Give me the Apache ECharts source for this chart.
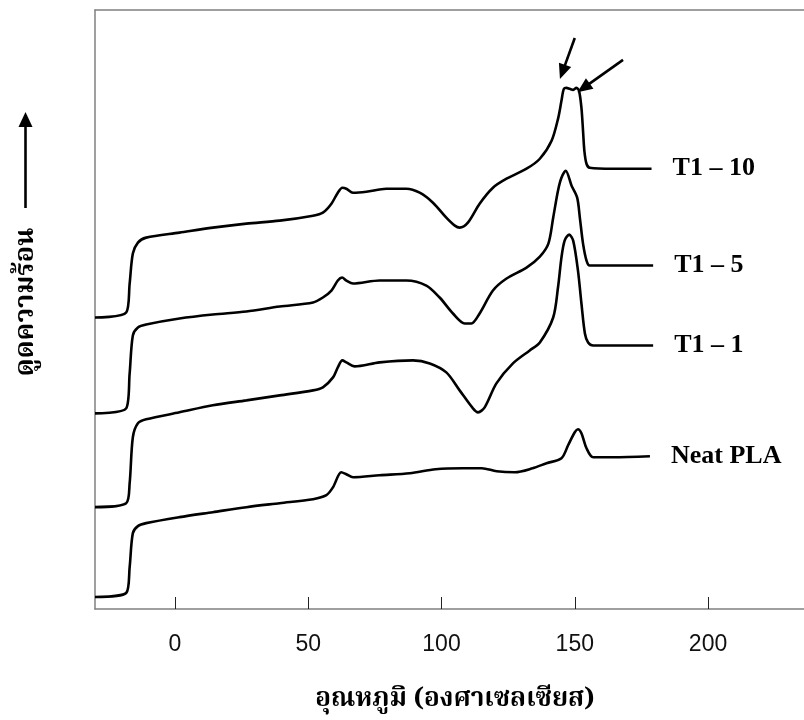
<!DOCTYPE html>
<html>
<head>
<meta charset="utf-8">
<script src="https://cdn.jsdelivr.net/npm/echarts@6/dist/echarts.min.js"></script>
<style>
html,body{margin:0;padding:0;background:#fff;}
#chart{width:804px;height:720px;}
</style>
</head>
<body>
<div id="chart"></div>
<script>
// Temperature (°C) vs heat flow (arbitrary units, offset curves)
const tempTicks = [0, 50, 100, 150, 200];
const seriesNames = ['T1 – 10', 'T1 – 5', 'T1 – 1', 'Neat PLA'];

const dataT1_10 = [[-30,29.2],[-18.3,29.7],[-17.0,32.6],[-15.8,35.6],[-13.9,36.7],[-10.8,37.2],[1.7,37.7],[14.2,38.2],[26.8,38.6],[39.3,38.9],[51.8,39.4],[55.5,39.7],[58.7,40.6],[61.1,41.7],[62.8,42.2],[64.3,42.1],[66.8,41.7],[71.8,41.8],[79.3,42.1],[86.8,42.1],[91.8,41.7],[96.8,40.7],[101.8,39.2],[105.0,38.4],[106.8,38.2],[109.9,38.7],[114.3,40.6],[119.3,42.2],[124.4,43.1],[131.9,44.1],[136.9,45.1],[141.3,46.9],[143.8,49.2],[145.0,50.9],[145.9,52.1],[146.9,52.2],[148.1,52.1],[149.4,52.0],[150.6,52.2],[151.6,51.9],[152.5,50.2],[153.1,47.9],[153.6,45.9],[154.4,44.6],[155.6,44.2],[164.4,44.1],[178.8,44.1]];

const dataT1_5 = [[-30,19.6],[-18.3,20.1],[-17.0,23.6],[-15.8,27.4],[-13.9,28.2],[-10.8,28.5],[1.7,29.1],[14.2,29.5],[26.8,29.8],[39.3,30.3],[51.8,30.7],[55.5,31.2],[58.7,31.9],[61.1,32.9],[62.7,33.2],[64.3,32.9],[66.8,32.6],[76.8,32.9],[86.8,32.9],[94.3,32.4],[99.3,31.2],[104.3,29.6],[108.7,28.6],[111.2,28.6],[114.3,29.6],[119.3,31.9],[124.4,33.1],[131.9,34.2],[136.9,35.3],[140.1,36.6],[141.9,39.2],[143.7,41.9],[145.0,43.2],[146.6,43.9],[148.8,42.4],[150.9,41.2],[151.9,39.2],[153.1,36.6],[154.4,34.9],[155.6,34.4],[179.4,34.4]];

const dataT1_1 = [[-30,10.2],[-18.3,10.6],[-17.0,12.6],[-15.8,17.2],[-13.9,18.6],[-10.8,19.0],[1.7,19.7],[14.2,20.4],[26.8,20.9],[39.3,21.4],[51.8,21.9],[55.5,22.2],[59.3,23.2],[61.1,24.2],[62.8,24.9],[64.3,24.7],[67.4,24.3],[76.8,24.7],[89.3,24.9],[95.6,24.6],[101.8,23.7],[106.8,21.9],[111.8,20.1],[113.7,19.7],[116.2,20.2],[120.6,22.6],[126.8,24.6],[133.1,25.9],[136.9,26.7],[141.9,29.2],[143.7,32.2],[145.0,35.2],[146.2,36.9],[147.9,37.5],[149.4,36.9],[151.2,33.9],[152.5,30.6],[153.8,27.6],[155.0,26.7],[156.9,26.4],[179.4,26.4]];

const dataNeat = [[-30,1.2],[-18.3,1.6],[-17.0,4.2],[-15.8,7.6],[-13.9,8.3],[-10.8,8.6],[1.7,9.2],[14.2,9.7],[26.8,10.2],[39.3,10.6],[51.8,11.0],[56.8,11.4],[59.3,12.2],[62.4,13.7],[64.3,13.5],[66.8,13.2],[76.8,13.4],[88.1,13.6],[97.8,14.0],[108.0,14.1],[115.1,14.1],[120.7,13.8],[127.5,13.7],[134.2,14.1],[139.4,14.6],[145.0,15.1],[147.5,16.4],[150.0,17.7],[151.2,18.0],[152.5,17.6],[154.4,16.1],[156.9,15.2],[164.4,15.2],[178.2,15.3]];

// annotation arrows pointing to the two melting peaks of T1 – 10: [from, to]
const peakArrows = [[[150.0,57.2],[145.4,53.8]], [[168.1,55.0],[153.3,52.2]]];

const allData = [dataT1_10, dataT1_5, dataT1_1, dataNeat];

const yTitle = 'ดูดความร้อน';
const xTitle = 'อุณหภูมิ (องศาเซลเซียส)';

const thaiFont = "'Noto Serif Thai','Noto Sans Thai','Loma','Garuda','Norasi','Tlwg Typo','Liberation Serif',serif";

const chart = echarts.init(document.getElementById('chart'), null, {renderer: 'canvas'});

const series = allData.map((d, i) => {
  const s = {
    type: 'line',
    name: seriesNames[i],
    data: d,
    smooth: 0.3,
    showSymbol: false,
    symbol: 'none',
    silent: true,
    lineStyle: {color: '#000', width: 2.6},
    endLabel: {
      show: true,
      formatter: seriesNames[i],
      distance: 21,
      color: '#000',
      fontFamily: "'Liberation Serif','Times New Roman',serif",
      fontWeight: 'bold',
      fontSize: 26
    },
    animation: false
  };
  if (i === 0) {
    s.markLine = {
      silent: true,
      animation: false,
      symbol: ['none', 'triangle'],
      symbolSize: [13, 15],
      label: {show: false},
      lineStyle: {color: '#000', width: 2.6, type: 'solid'},
      emphasis: {disabled: true},
      data: peakArrows.map(a => [{coord: a[0]}, {coord: a[1]}])
    };
  }
  return s;
});

const option = {
  animation: false,
  backgroundColor: '#fff',
  grid: {left: 95, right: 0, top: 10, bottom: 111, containLabel: false},
  xAxis: [{
    type: 'value',
    min: -30, max: 236,
    position: 'bottom',
    name: xTitle,
    nameLocation: 'middle',
    nameGap: 80,
    nameTextStyle: {fontFamily: thaiFont, fontWeight: 'bold', fontSize: 26, color: '#000', padding: [0, 0, 0, 11]},
    axisLine: {show: true, onZero: false, lineStyle: {color: '#808080', width: 1.5}},
    axisTick: {show: true, inside: true, length: 12, customValues: tempTicks, lineStyle: {color: '#222', width: 1}},
    axisLabel: {show: true, customValues: tempTicks, margin: 24, fontFamily: "'Liberation Sans',Arial,sans-serif", fontSize: 23, color: '#111'},
    splitLine: {show: false}
  }, {
    type: 'value',
    min: -30, max: 236,
    position: 'top',
    axisLine: {show: true, onZero: false, lineStyle: {color: '#808080', width: 1.5}},
    axisTick: {show: false},
    axisLabel: {show: false},
    splitLine: {show: false}
  }],
  yAxis: {
    type: 'value',
    min: 0, max: 60,
    axisLine: {show: true, onZero: false, lineStyle: {color: '#808080', width: 1.5}},
    axisTick: {show: false},
    axisLabel: {show: false},
    splitLine: {show: false}
  },
  graphic: [
    {type: 'text', silent: true, x: 29, y: 302, rotation: Math.PI / 2,
     style: {text: yTitle, fontFamily: thaiFont, fontWeight: 'bold', fontSize: 27, fill: '#000', align: 'center', verticalAlign: 'middle'}},
    {type: 'line', silent: true, shape: {x1: 25.5, y1: 208, x2: 25.5, y2: 124}, style: {stroke: '#000', lineWidth: 2.6}},
    {type: 'polygon', silent: true, shape: {points: [[18.5, 127], [32.5, 127], [25.5, 112]]}, style: {fill: '#000'}}
  ],
  series: series
};

chart.setOption(option);
</script>
</body>
</html>
